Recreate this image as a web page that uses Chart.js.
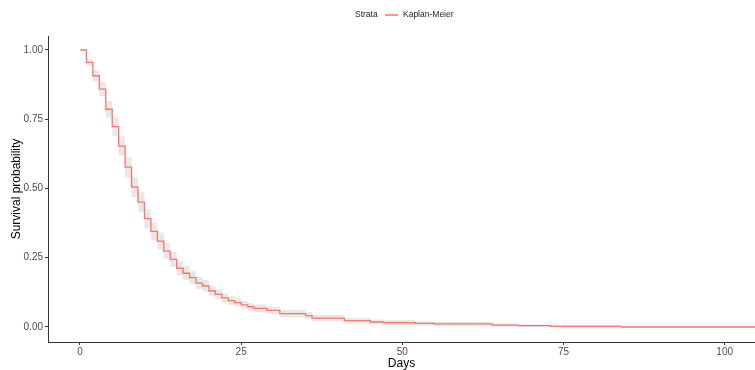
<!DOCTYPE html>
<html>
<head>
<meta charset="utf-8">
<script src="https://cdn.jsdelivr.net/npm/chart.js@4.4.0/dist/chart.umd.min.js"></script>
<style>
  body { margin: 0; background: #fff; }
  #wrap { width: 755px; height: 370px; }
</style>
</head>
<body>
<div id="wrap"><canvas id="km" width="755" height="370"></canvas></div>
<script>
// Kaplan-Meier estimate
var days  = [0, 1, 2, 3, 4, 5, 6, 7, 8, 9, 10, 11, 12, 13, 14, 15, 16, 17, 18, 19, 20,
             21, 22, 23, 24, 25, 26, 27, 29, 31, 35, 36, 41, 45, 47, 52, 55, 64, 68, 73, 84, 105];
var surv  = [1, .955, .907, .859, .786, .723, .653, .577, .505, .451, .391, .345, .310, .274, .244, .212, .194, .178, .158, .148, .130,
             .118, .105, .095, .088, .080, .073, .067, .060, .048, .041, .032, .023, .018, .016, .013, .011, .007, .005, .0025, 0, 0];
var upper = [1, .967, .927, .884, .816, .756, .688, .613, .541, .486, .425, .377, .341, .303, .271, .238, .219, .202, .180, .169, .149,
             .136, .122, .111, .103, .095, .087, .081, .073, .061, .053, .043, .033, .027, .025, .021, .019, .013, .010, .0065, .002, .002];
var lower = [1, .943, .887, .834, .756, .690, .618, .541, .469, .416, .357, .313, .279, .245, .217, .186, .169, .154, .136, .127, .111,
             .100, .088, .079, .073, .065, .059, .053, .047, .035, .029, .021, .013, .009, .007, .005, .003, .001, 0, 0, 0, 0];

var xTicks = [0, 25, 50, 75, 100];
var yTicks = [0, 0.25, 0.5, 0.75, 1];
var strataLabel = "Kaplan-Meier";

var lineColor = "#F8766D";
var axisColor = "#333333";
var tickText = "#4d4d4d";

function pts(ys) {
  return days.map(function (d, i) { return { x: d, y: ys[i] }; });
}

// legend drawn like ggplot's: title on the left, key and label after it
var stripLegend = {
  id: "stripLegend",
  afterDraw: function (chart) {
    var ctx = chart.ctx;
    ctx.save();
    ctx.font = '8.5px "Liberation Sans", Arial, sans-serif';
    ctx.fillStyle = "#1a1a1a";
    ctx.textBaseline = "middle";
    ctx.fillText("Strata", 355, 15);
    ctx.strokeStyle = lineColor;
    ctx.lineWidth = 1.5;
    ctx.beginPath();
    ctx.moveTo(385, 15);
    ctx.lineTo(398, 15);
    ctx.stroke();
    ctx.fillText(strataLabel, 403, 15);
    ctx.restore();
  }
};

var ctx = document.getElementById("km").getContext("2d");
var km = new Chart(ctx, {
  type: "line",
  data: {
    datasets: [
      {
        label: strataLabel,
        data: pts(surv),
        stepped: "before",
        borderColor: lineColor,
        borderWidth: 1.3,
        pointRadius: 0,
        fill: false,
        order: 0
      },
      {
        label: "upper",
        data: pts(upper),
        stepped: "before",
        borderWidth: 0,
        borderColor: "rgba(0,0,0,0)",
        backgroundColor: "#e8e8e8",
        pointRadius: 0,
        fill: "+1",
        order: 1
      },
      {
        label: "lower",
        data: pts(lower),
        stepped: "before",
        borderWidth: 0,
        borderColor: "rgba(0,0,0,0)",
        pointRadius: 0,
        fill: false,
        order: 2
      }
    ]
  },
  options: {
    responsive: false,
    animation: false,
    layout: { padding: { top: 36, left: 0, right: 0, bottom: 0 } },
    plugins: {
      legend: { display: false },
      tooltip: { enabled: false }
    },
    scales: {
      x: {
        type: "linear",
        min: -4.96,
        max: 104.7,
        afterFit: function (s) { s.height = 28; },
        afterBuildTicks: function (s) { s.ticks = xTicks.map(function (v) { return { value: v }; }); },
        border: { display: true, color: axisColor, width: 1 },
        grid: { display: true, drawOnChartArea: false, drawTicks: true, tickLength: 3, color: axisColor },
        ticks: {
          padding: 1,
          color: tickText,
          font: { family: '"Liberation Sans", Arial, sans-serif', size: 10 },
          maxRotation: 0
        },
        title: {
          display: true,
          text: "Days",
          color: "#000",
          font: { family: '"Liberation Sans", Arial, sans-serif', size: 12, lineHeight: 1 },
          padding: { top: 0, bottom: 0 }
        }
      },
      y: {
        type: "linear",
        min: -0.0542,
        max: 1.0505,
        afterFit: function (s) { s.width = 48; },
        afterBuildTicks: function (s) { s.ticks = yTicks.map(function (v) { return { value: v }; }); },
        border: { display: true, color: axisColor, width: 1 },
        grid: { display: true, drawOnChartArea: false, drawTicks: true, tickLength: 3, color: axisColor },
        ticks: {
          padding: 2,
          color: tickText,
          font: { family: '"Liberation Sans", Arial, sans-serif', size: 10 },
          callback: function (v) { return Number(v).toFixed(2); }
        },
        title: {
          display: true,
          text: "Survival probability",
          color: "#000",
          font: { family: '"Liberation Sans", Arial, sans-serif', size: 12, lineHeight: 1.2 },
          padding: { top: 9, bottom: 0 }
        }
      }
    }
  },
  plugins: [stripLegend]
});
</script>
</body>
</html>
